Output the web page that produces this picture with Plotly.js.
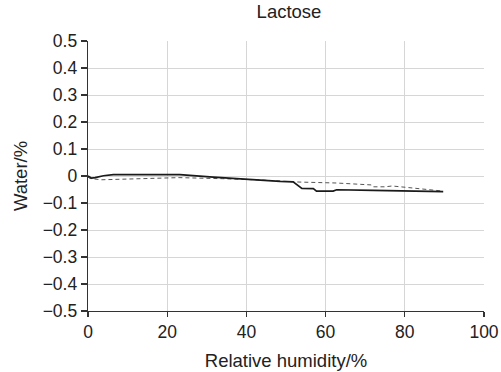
<!DOCTYPE html>
<html><head><meta charset="utf-8">
<script src="https://cdn.plot.ly/plotly-3.0.1.min.js"></script>
<style>html,body{margin:0;padding:0;background:#fff;}#chart{width:501px;height:372px;}</style>
</head><body><div id="chart"></div>
<script>
const solidRH    = [0, 0.9, 1.8, 3.9, 6.4, 15, 23.2, 31.6, 40, 48.5, 51.8, 53.0, 54.0, 56.9, 57.7, 61.9, 62.8, 72, 80, 89.7];
const solidWater = [0, -0.008, -0.006, 0.001, 0.005, 0.006, 0.005, -0.004, -0.013, -0.020, -0.022, -0.035, -0.046, -0.047, -0.056, -0.056, -0.051, -0.053, -0.056, -0.058];
const dashRH     = [0, 0.4, 3.4, 14.9, 23, 34, 44, 52.3, 62.8, 71.5, 72, 75, 76.8, 81, 89];
const dashWater  = [-0.004, -0.009, -0.014, -0.010, -0.006, -0.010, -0.015, -0.022, -0.026, -0.033, -0.040, -0.040, -0.037, -0.043, -0.055];
const xTicks = [0, 20, 40, 60, 80, 100];
const yTicks = [0.5, 0.4, 0.3, 0.2, 0.1, 0, -0.1, -0.2, -0.3, -0.4, -0.5];
const yTickText = ['0.5','0.4','0.3','0.2','0.1','0','\u22120.1','\u22120.2','\u22120.3','\u22120.4','\u22120.5'];

const traces = [
  {x: dashRH, y: dashWater, mode: 'lines', line: {color: '#555', width: 1, dash: '4px,3px'}, hoverinfo: 'skip'},
  {x: solidRH, y: solidWater, mode: 'lines', line: {color: '#1a1a1a', width: 1.7}, hoverinfo: 'skip'}
];
const font = {family: '"Liberation Sans", Arial, sans-serif', color: '#222'};
const layout = {
  width: 501, height: 372,
  margin: {l: 88, r: 17, t: 41, b: 61},
  paper_bgcolor: '#fff', plot_bgcolor: '#fff',
  showlegend: false,
  font: Object.assign({size: 17.5}, font),
  title: {text: 'Lactose', font: Object.assign({size: 18.5}, font), x: 289/501, xanchor: 'center', y: 1 - 12/372, yanchor: 'middle'},
  xaxis: {
    range: [0, 100], tickvals: xTicks, ticktext: xTicks.map(String),
    showgrid: true, gridcolor: '#d6d6d6', gridwidth: 1,
    showline: true, linecolor: '#333', linewidth: 1.3,
    ticks: 'outside', ticklen: 5, tickcolor: '#333', tickwidth: 1.2,
    zeroline: false, tickfont: Object.assign({size: 17.5}, font),
    title: {text: 'Relative humidity/%', font: Object.assign({size: 18.5}, font), standoff: 12}
  },
  yaxis: {
    range: [-0.5, 0.5], tickvals: yTicks, ticktext: yTickText,
    showgrid: true, gridcolor: '#d6d6d6', gridwidth: 1,
    showline: true, linecolor: '#333', linewidth: 1.3,
    ticks: 'outside', ticklen: 6, tickcolor: '#333', tickwidth: 1.2,
    zeroline: false, tickfont: Object.assign({size: 17.5}, font),
    title: {text: 'Water/%', font: Object.assign({size: 18.5}, font), standoff: 10}
  }
};
Plotly.newPlot('chart', traces, layout, {staticPlot: true, displayModeBar: false});
</script>
</body></html>
